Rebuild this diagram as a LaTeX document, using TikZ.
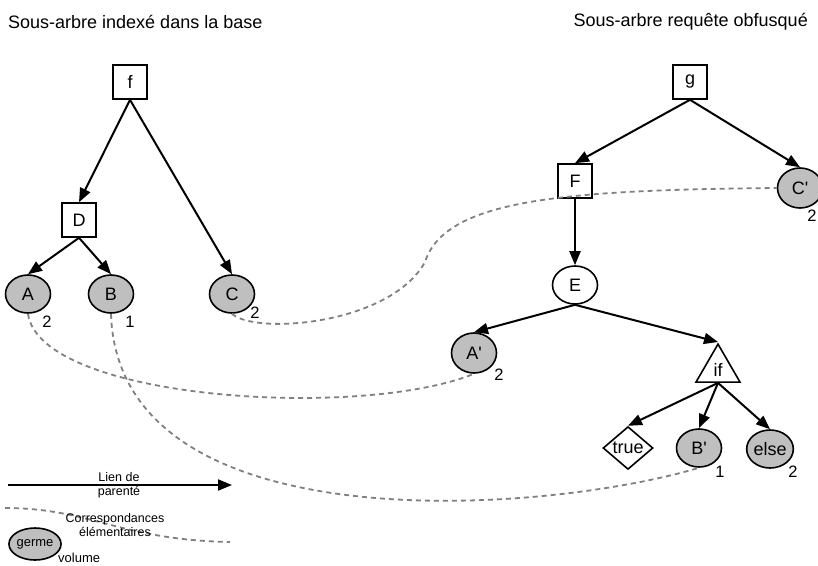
\documentclass[tikz,border=0pt]{standalone}
\usepackage{fontspec}
\setmainfont{Liberation Sans}
\usetikzlibrary{shapes.geometric, arrows.meta}
\newcommand{\vertexNode}[5][]{
	\path (#2,#3) node[#1](#4){#5};
}
\newcommand{\edge}[3][]{
	\draw[#1] (#2) -- (#3);
}
\tikzset{
	boite/.style={draw, line width=1.6pt, rectangle, minimum width=34pt, minimum height=34pt, inner sep=0pt},
	feuille/.style={draw, line width=1.6pt, ellipse, fill=black!25, minimum width=45pt, minimum height=38pt, inner sep=0pt},
	interne/.style={feuille, fill=white},
	cond/.style={draw, line width=1.6pt, isosceles triangle, shape border rotate=90, isosceles triangle stretches, minimum width=44pt, minimum height=38pt, inner sep=0pt},
	bool/.style={draw, line width=1.6pt, diamond, minimum width=50pt, minimum height=40pt, inner sep=0pt},
	num/.style={inner sep=0pt, font=\fontsize{16.5}{18}\selectfont},
	lien/.style={-{Triangle[length=14pt, width=11pt]}, line width=2pt},
	corresp/.style={draw=black!50, line width=1.8pt, dash pattern=on 5pt off 4pt},
	legende/.style={align=center, inner sep=0pt, font=\fontsize{12.5}{14}\selectfont}
}

\begin{document}
\begin{tikzpicture}[x=1pt, y=-1pt, font=\fontsize{18}{20}\selectfont]
	\useasboundingbox (0,0) rectangle (818,565);

	% titres
	\path (8,22) node[anchor=west, inner sep=0pt, font=\fontsize{18}{20}\selectfont](titreG){Sous-arbre indexé dans la base};
	\path (808,22) node[anchor=east, inner sep=0pt, font=\fontsize{18}{20}\selectfont](titreD){Sous-arbre requête obfusqué};

	% arbre de la base
	\vertexNode[boite]{130}{82}{f}{f};
	\vertexNode[boite]{79}{220}{D}{D};
	\vertexNode[feuille]{28}{294}{A}{A};
	\vertexNode[feuille]{111}{294}{B}{B};
	\vertexNode[feuille]{232}{294}{C}{C};

	% arbre requete
	\vertexNode[boite]{690}{82}{g}{g};
	\vertexNode[boite]{575}{181}{F}{F};
	\vertexNode[feuille, minimum height=40pt]{800}{188}{Cp}{C\textquotesingle};
	\vertexNode[interne]{575}{285}{E}{E};
	\vertexNode[feuille, minimum height=40pt]{474}{353}{Ap}{A\textquotesingle};
	\vertexNode[cond, anchor=apex]{718}{342}{if}{if};
	\vertexNode[bool]{628}{448}{true}{true};
	\vertexNode[feuille]{699}{448}{Bp}{B\textquotesingle};
	\vertexNode[feuille]{770}{449}{else}{else};

	% volumes
	\path (47,322) node[num](nA){2};
	\path (130,322) node[num](nB){1};
	\path (255,313) node[num](nC){2};
	\path (812,216) node[num](nCp){2};
	\path (499,375) node[num](nAp){2};
	\path (720,472) node[num](nBp){1};
	\path (793,472) node[num](nelse){2};

	\edge[lien]{f.south}{D.north};
	\edge[lien]{f.south}{C.north};
	\edge[lien]{D.south}{A.north};
	\edge[lien]{D.south}{B.north};
	\edge[lien]{g.south}{F.north};
	\edge[lien]{g.south}{Cp.north};
	\edge[lien]{F.south}{E.north};
	\edge[lien]{E.south}{Ap.north};
	\edge[lien]{E.south}{if.apex};
	\edge[lien]{if.south}{true.north};
	\edge[lien]{if.south}{Bp.north};
	\edge[lien]{if.south}{else.north};

	% correspondances
	\draw[corresp] (A.south) .. controls (40,400) and (360,420) .. (Ap.south);
	\draw[corresp] (B.south) .. controls (118,545) and (540,515) .. (Bp.south);
	\draw[corresp] (C.south) .. controls (255,335) and (390,325) .. (425,262)
		.. controls (445,200) and (560,190) .. (Cp.west);

	% legende
	\coordinate (lienG) at (8,485);
	\coordinate (lienD) at (232,485);
	\edge[lien]{lienG}{lienD};
	\path (119,485) node[legende](txtLien){Lien de\\parenté};
	\coordinate (corrG) at (5,508);
	\coordinate (corrD) at (230,542);
	\draw[corresp] (corrG) .. controls (90,508) and (120,540) .. (corrD);
	\path (115,525) node[legende](txtCorr){Correspondances\\élémentaires};
	\vertexNode[feuille, minimum width=44pt, minimum height=32pt, font=\fontsize{13}{15}\selectfont]{35}{544}{germe}{germe};
	\path (58,558) node[anchor=west, inner sep=0pt, font=\fontsize{13}{15}\selectfont](volume){volume};
\end{tikzpicture}
\end{document}
